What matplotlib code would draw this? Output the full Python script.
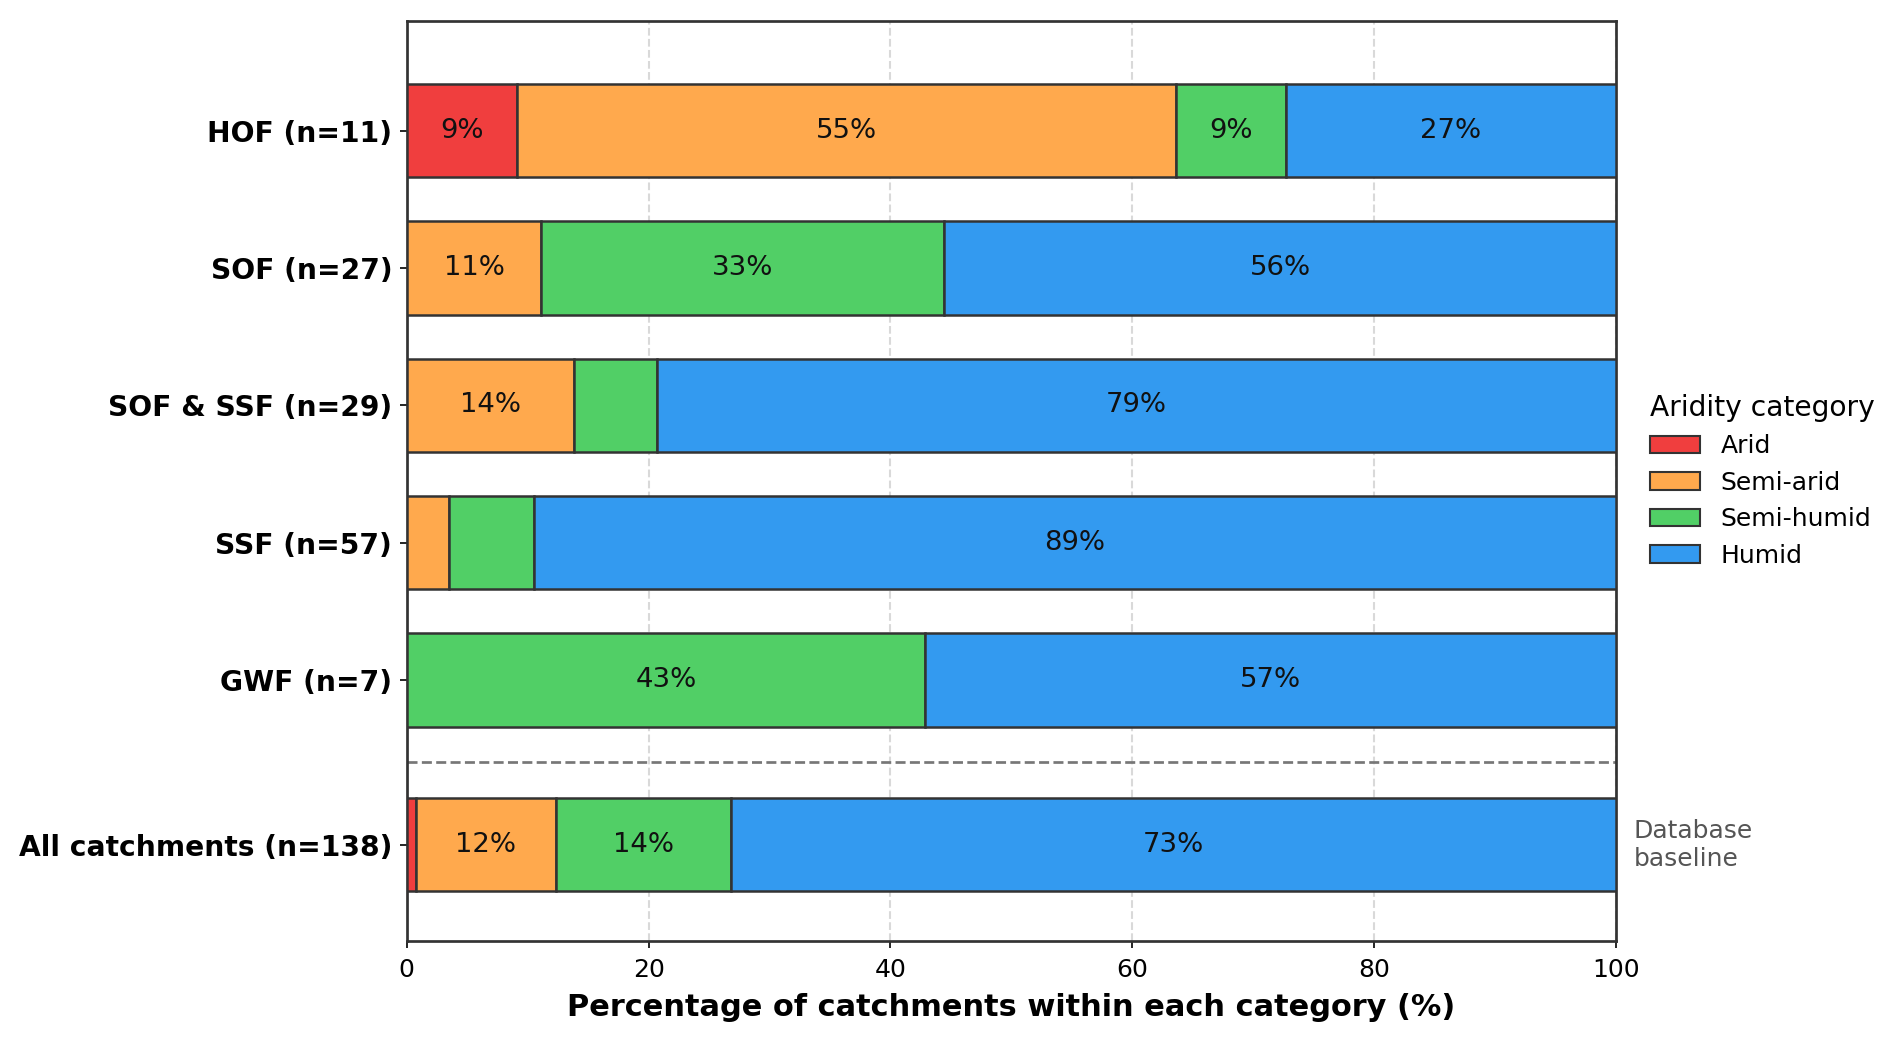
import numpy as np
import matplotlib
matplotlib.use("Agg")
import matplotlib.pyplot as plt
from matplotlib.patches import Patch

# catchment counts per runoff process group and aridity class
groups = ['HOF (n=11)', 'SOF (n=27)', 'SOF & SSF (n=29)', 'SSF (n=57)',
          'GWF (n=7)', 'All catchments (n=138)']
categories = ['Arid', 'Semi-arid', 'Semi-humid', 'Humid']
arid = [1, 0, 0, 0, 0, 1]
semi_arid = [6, 3, 4, 2, 0, 16]
semi_humid = [1, 9, 2, 4, 3, 20]
humid = [3, 15, 23, 51, 4, 101]

colors = ['#F03E3E', '#FFA94D', '#51CF66', '#339AF0']
ypos = [0, 1, 2, 3, 4, 5.2]

counts = np.array([arid, semi_arid, semi_humid, humid], dtype=float)
pct = counts / counts.sum(axis=0) * 100

fig = plt.figure(figsize=(1892 / 150, 1043 / 150), dpi=150)
ax = fig.add_axes((0.215, 0.098, 0.639, 0.882))

left = np.zeros(len(groups))
for i, cat in enumerate(categories):
    ax.barh(ypos, pct[i], left=left, height=0.68, color=colors[i],
            edgecolor='#333333', linewidth=1.2, label=cat, zorder=3)
    for y, l, p in zip(ypos, left, pct[i]):
        if p >= 8:  # skip the tiny slices
            ax.text(l + p / 2, y, '%.0f%%' % p, ha='center', va='center',
                    fontsize=13.2, color='#111111', zorder=4)
    left += pct[i]

# separator between groups and the whole database
ax.plot([0, 100], [4.6, 4.6], ls='--', color='#777777', lw=1.3, zorder=2)
ax.text(101.5, ypos[-1], 'Database\nbaseline', ha='left', va='center',
        fontsize=12, color='#555555', clip_on=False)

ax.set_xlim(0, 100)
ax.set_ylim(5.9, -0.8)
ax.set_yticks(ypos)
ax.set_yticklabels(groups, fontsize=13.5, fontweight='bold')
ax.tick_params(axis='x', labelsize=12, pad=5)
ax.set_xlabel('Percentage of catchments within each category (%)',
              fontsize=14.6, fontweight='bold', labelpad=5)
ax.grid(axis='x', ls='--', color='#d9d9d9', lw=1, zorder=0)
for s in ax.spines.values():
    s.set_color('#333333')
    s.set_linewidth(1.3)

handles = [Patch(facecolor=c, edgecolor='#333333', label=n)
           for c, n in zip(colors, categories)]
leg = ax.legend(handles=handles, title='Aridity category', loc='center left',
                bbox_to_anchor=(1.01, 0.50), frameon=False, fontsize=12,
                title_fontsize=13.5)
leg._legend_box.align = 'left'

fig.savefig('out.png', dpi=150)
